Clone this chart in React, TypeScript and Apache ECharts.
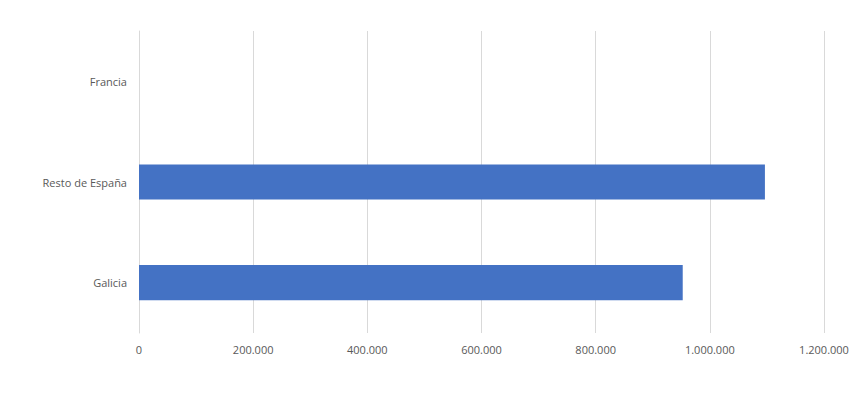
import React, { useEffect, useRef } from "react";
import * as echarts from "echarts";

const categories = ["Galicia", "Resto de España", "Francia"];
const values = [952500, 1096500, 0];
const axisMax = 1200000;
const axisInterval = 200000;

function fmt(v: number): string {
  return String(Math.round(v)).replace(/\B(?=(\d{3})+(?!\d))/g, ".");
}

export default function App() {
  const ref = useRef<HTMLDivElement>(null);
  useEffect(() => {
    if (!ref.current) return;
    const chart = echarts.init(ref.current, undefined, { renderer: "svg" });
    chart.setOption({
      animation: false,
      backgroundColor: "#ffffff",
      grid: { left: 139, right: 32, top: 31, bottom: 60, containLabel: false },
      xAxis: {
        type: "value",
        min: 0,
        max: axisMax,
        interval: axisInterval,
        axisLine: { show: false },
        axisTick: { show: false },
        splitLine: { show: true, lineStyle: { color: "#d9d9d9", width: 1 } },
        axisLabel: {
          formatter: (v: number) => fmt(v),
          color: "#595959",
          fontSize: 11,
          fontFamily: "Open Sans",
          margin: 11,
        },
      },
      yAxis: {
        type: "category",
        data: categories,
        axisLine: { show: true, lineStyle: { color: "#d9d9d9", width: 1 } },
        axisTick: { show: false },
        axisLabel: {
          color: "#595959",
          fontSize: 11,
          fontFamily: "Open Sans",
          margin: 12,
        },
      },
      series: [
        {
          type: "bar",
          data: values,
          barWidth: "35%",
          itemStyle: { color: "#4472c4" },
        },
      ],
    });
    return () => chart.dispose();
  }, []);
  return (
    <div
      ref={ref}
      style={{ width: 856, height: 393, position: "absolute", left: 0, top: 0 }}
    />
  );
}
